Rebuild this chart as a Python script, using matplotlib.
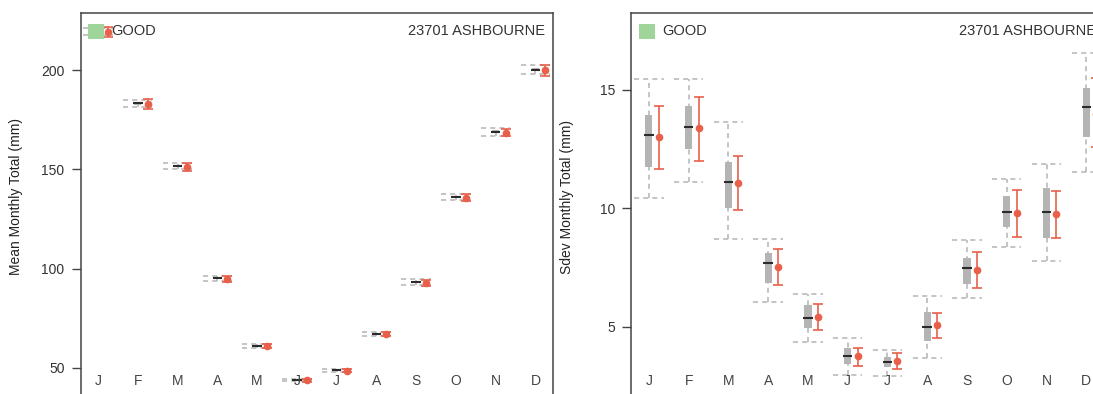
import matplotlib
matplotlib.use("Agg")
import matplotlib.pyplot as plt
import matplotlib.transforms as mtransforms
from matplotlib.patches import Rectangle

plt.rcParams['font.family'] = ['Liberation Sans', 'DejaVu Sans']

months = ['J', 'F', 'M', 'A', 'M', 'J', 'J', 'A', 'S', 'O', 'N', 'D']
station = '23701 ASHBOURNE'
quality = 'GOOD'

# mean monthly total (mm): simulated ensemble (grey) and observed (red)
mm_med    = [219.5, 183.3, 151.7, 95.3, 61.1, 44.0, 48.7, 67.2, 93.3, 136.1, 169.0, 200.3]
mm_box_lo = [218.6, 182.5, 151.0, 94.8, 60.7, 43.7, 48.4, 66.8, 92.7, 135.4, 168.2, 199.4]
mm_box_hi = [220.4, 184.1, 152.4, 95.8, 61.5, 44.3, 49.0, 67.6, 93.9, 136.8, 169.8, 201.2]
mm_wlo    = [217.6, 181.3, 150.0, 94.0, 60.0, 43.4, 48.1, 66.3, 92.0, 134.5, 167.0, 198.0]
mm_whi    = [221.5, 185.0, 153.3, 96.5, 62.0, 44.6, 49.3, 68.0, 94.6, 137.6, 170.8, 202.5]
mm_obs    = [219.3, 182.9, 151.3, 95.0, 60.9, 43.8, 48.5, 67.0, 93.0, 135.8, 168.6, 199.9]
mm_lo     = [216.9, 180.5, 149.2, 93.5, 59.8, 43.1, 47.8, 66.0, 91.5, 133.9, 166.7, 197.3]
mm_hi     = [221.7, 185.3, 153.4, 96.5, 62.0, 44.5, 49.2, 68.0, 94.5, 137.7, 170.5, 202.5]

# sdev monthly total (mm)
sd_med    = [13.10, 13.42, 11.11, 7.70, 5.35, 3.77, 3.52, 5.00, 7.49, 9.85, 9.86, 14.27]
sd_box_lo = [11.73, 12.51, 10.03, 6.86, 4.93, 3.41, 3.31, 4.41, 6.79, 9.20, 8.73, 13.03]
sd_box_hi = [13.94, 14.32, 11.97, 8.13, 5.92, 4.11, 3.70, 5.63, 7.92, 10.52, 10.85, 15.07]
sd_wlo    = [10.42, 11.13, 8.72, 6.06, 4.37, 2.96, 2.93, 3.66, 6.20, 8.38, 7.77, 11.55]
sd_whi    = [15.46, 15.45, 13.66, 8.72, 6.37, 4.54, 4.01, 6.30, 8.66, 11.23, 11.87, 16.55]
sd_obs    = [13.00, 13.38, 11.06, 7.54, 5.39, 3.76, 3.54, 5.07, 7.39, 9.79, 9.76, 14.00]
sd_lo     = [11.66, 11.99, 9.93, 6.75, 4.86, 3.35, 3.20, 4.51, 6.65, 8.77, 8.75, 12.60]
sd_hi     = [14.32, 14.72, 12.23, 8.30, 5.96, 4.11, 3.87, 5.59, 8.14, 10.77, 10.75, 15.49]

W, H = 1093, 394
fig = plt.figure(figsize=(W / 100, H / 100), dpi=100)

def px_axes(left, top, right, bottom):
    return fig.add_axes([left / W, 1 - bottom / H, (right - left) / W, (bottom - top) / H])

grey = '#b4b4b4'
red = '#e8604a'
x = list(range(1, 13))

def panel(ax, med, blo, bhi, wlo, whi, obs, lo, hi, ylim, yticks, ylabel):
    for i in range(12):
        xi = x[i]
        ax.vlines(xi, wlo[i], whi[i], color=grey, lw=1.1, linestyles=(0, (3.3, 2.7)), zorder=1)
        ax.hlines([wlo[i], whi[i]], xi - 0.37, xi + 0.37, color=grey, lw=1.1,
                  linestyles=(0, (3.3, 2.7)), zorder=1)
        ax.add_patch(Rectangle((xi - 0.09, blo[i]), 0.18, bhi[i] - blo[i],
                               facecolor=grey, edgecolor='none', zorder=2))
        ax.hlines(med[i], xi - 0.12, xi + 0.12, color='#2b2b2b', lw=1.5, zorder=3)
    xr = [v + 0.25 for v in x]
    err = [[o - l for o, l in zip(obs, lo)], [h - o for o, h in zip(obs, hi)]]
    ax.errorbar(xr, obs, yerr=err, fmt='o', color=red, ms=4.5, lw=1.2,
                capsize=3.4, capthick=1.2, zorder=4)

    ax.set_xlim(0.56, 12.43)
    ax.set_ylim(*ylim)
    ax.set_yticks(yticks)
    ax.set_xticks([])
    for s in ax.spines.values():
        s.set_color('#444444')
        s.set_linewidth(1.1)
    ax.tick_params(axis='y', length=6.5, width=1.0, pad=5, colors='#444444',
                   labelsize=10, labelcolor='#333333')
    ax.set_ylabel(ylabel, fontsize=10, color='#222222')
    ax.yaxis.set_label_coords(-0.121, 0.535)

    trans = mtransforms.blended_transform_factory(ax.transData, ax.transAxes)
    for xi, m in zip(x, months):
        ax.text(xi, 0.0675, m, transform=trans, ha='center', va='center',
                fontsize=10, color='#444444')

    ax.add_patch(Rectangle((0.016, 0.936), 0.033, 0.038, transform=ax.transAxes,
                           facecolor='#9fd49a', edgecolor='none', zorder=5))
    ax.text(0.065, 0.955, quality, transform=ax.transAxes, ha='left', va='center',
            fontsize=10.5, color='#333333', zorder=6)
    ax.text(0.985, 0.955, station, transform=ax.transAxes, ha='right', va='center',
            fontsize=10.5, color='#333333', zorder=6)

ax1 = px_axes(80.5, 13.3, 552.5, 407.6)
panel(ax1, mm_med, mm_box_lo, mm_box_hi, mm_wlo, mm_whi, mm_obs, mm_lo, mm_hi,
      (30, 228.7), [50, 100, 150, 200], 'Mean Monthly Total (mm)')

ax2 = px_axes(631.4, 13.3, 1103.4, 407.6)
panel(ax2, sd_med, sd_box_lo, sd_box_hi, sd_wlo, sd_whi, sd_obs, sd_lo, sd_hi,
      (1.58, 18.24), [5, 10, 15], 'Sdev Monthly Total (mm)')

fig.savefig('out.png', dpi=100)
